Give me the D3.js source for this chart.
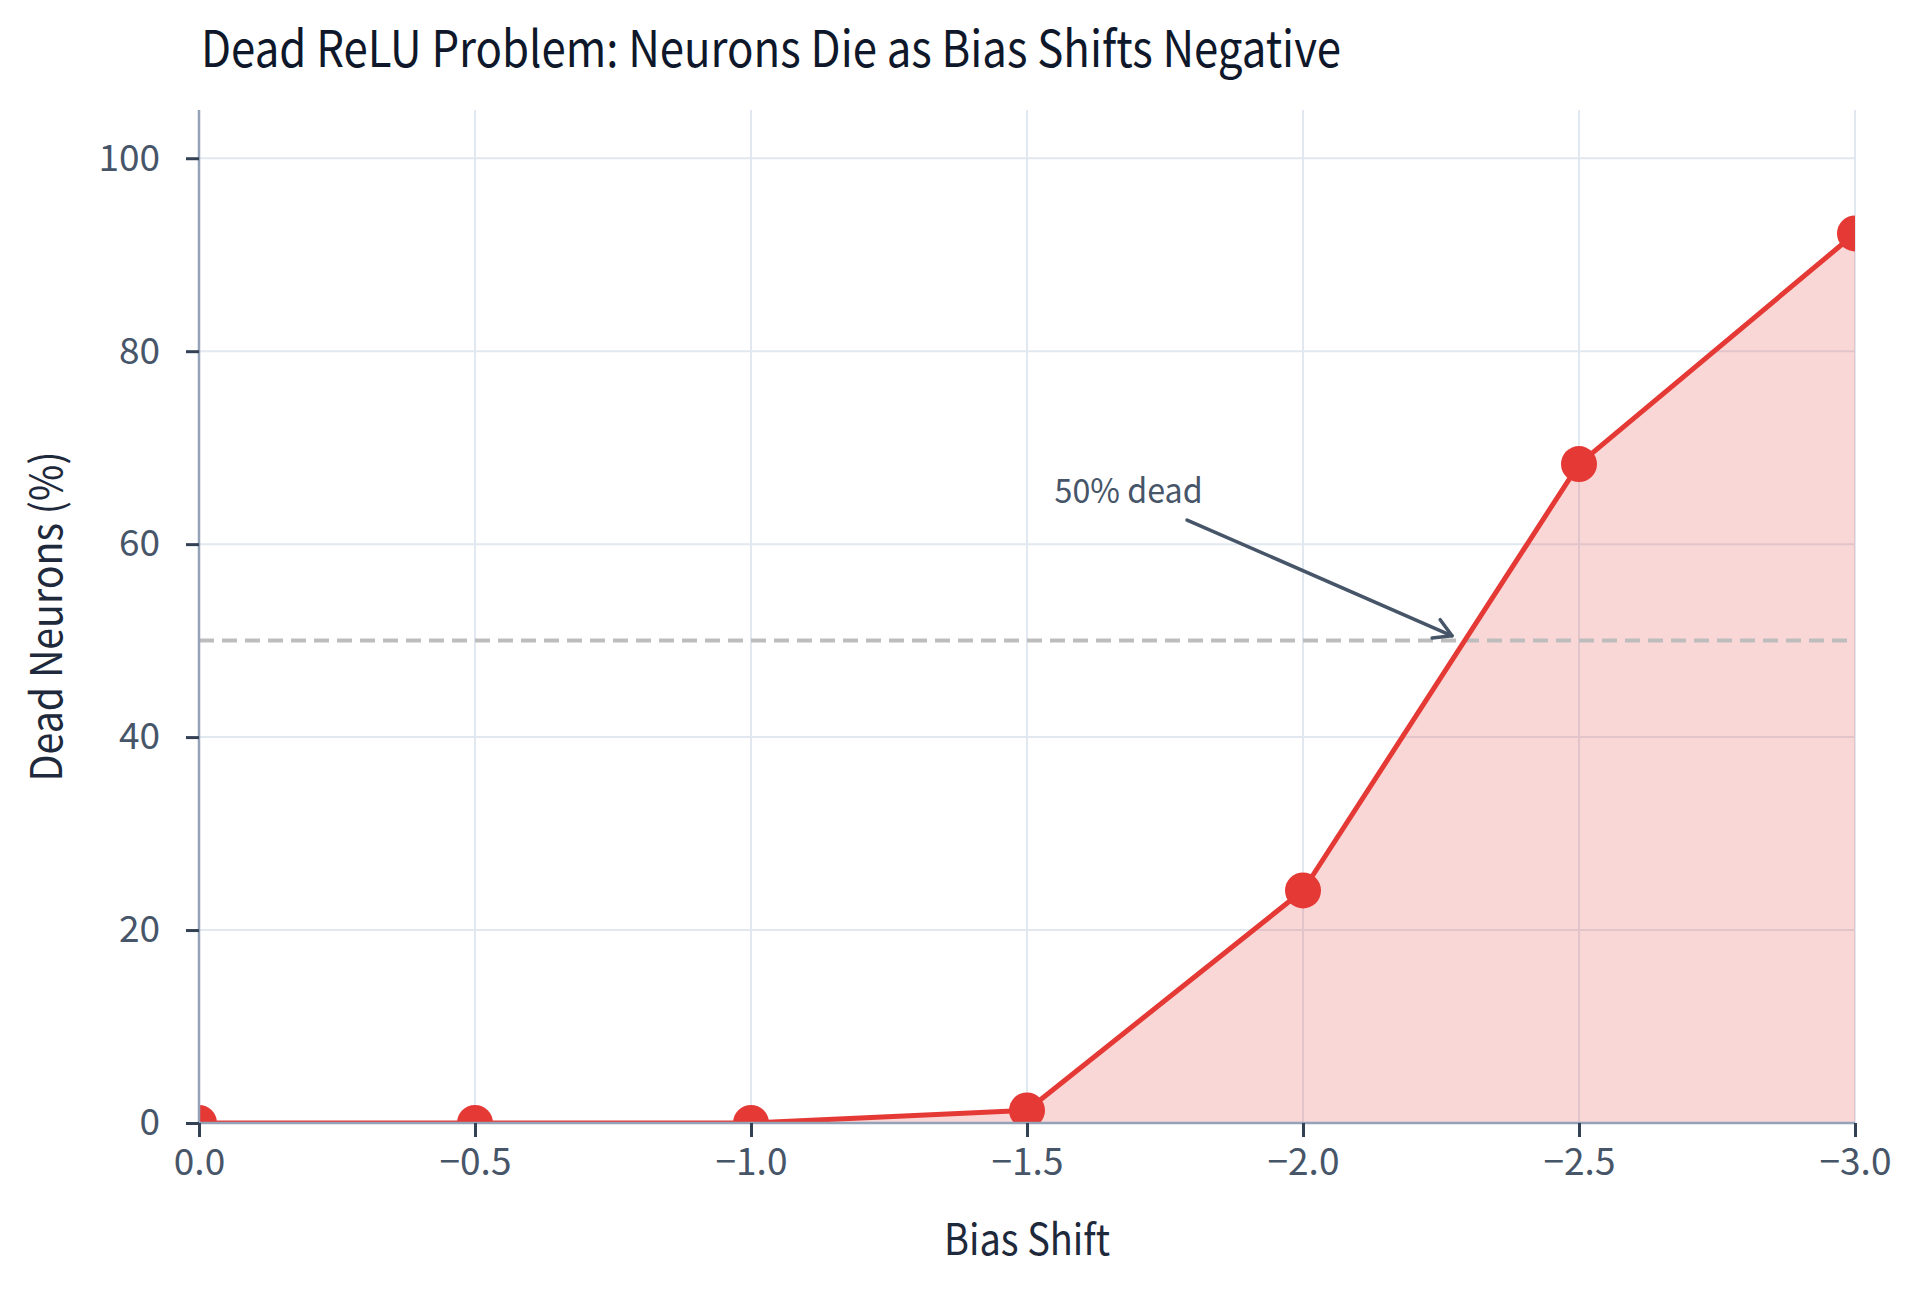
<!DOCTYPE html>
<html lang="en">
<head>
  <meta charset="UTF-8">
  <title>Dead ReLU Problem</title>
  <script src="https://d3js.org/d3.v7.min.js"></script>
  <style>
    html, body { margin: 0; padding: 0; background: #fff; }
    body { overflow: hidden; }
    svg text { font-family: "Noto Sans CJK KR", "Noto Sans", sans-serif; }
  </style>
</head>
<body>
  <svg id="chart"></svg>
  <script>
    // data
    const biasShift = [0, -0.5, -1.0, -1.5, -2.0, -2.5, -3.0];
    const deadPct = [0, 0, 0, 1.3, 24.1, 68.3, 92.2];
    const xTicks = [0, -0.5, -1.0, -1.5, -2.0, -2.5, -3.0];
    const yTicks = [0, 20, 40, 60, 80, 100];
    const threshold = 50;
    const noteText = '50% dead';
    const noteAt = [-1.55, 64.3];      // text anchor (data units)
    const arrowFrom = [-1.79, 62.5];
    const arrowTo = [-2.27, 50.5];

    const width = 1920, height = 1292;
    const margin = { top: 110, right: 65, bottom: 169, left: 199 };

    const red = '#e53935';
    const slate = '#475569';

    const svg = d3.select('#chart')
      .attr('width', width)
      .attr('height', height);

    const x = d3.scaleLinear().domain([0, -3]).range([margin.left, width - margin.right]);
    const y = d3.scaleLinear().domain([0, 105]).range([height - margin.bottom, margin.top]);

    const points = biasShift.map((b, i) => ({ b, v: deadPct[i] }));
    const fmt = d => d3.format('.1f')(d).replace('-', '\u2212');

    svg.append('defs').append('clipPath').attr('id', 'plotClip')
      .append('rect')
      .attr('x', margin.left).attr('y', margin.top)
      .attr('width', width - margin.left - margin.right)
      .attr('height', height - margin.top - margin.bottom);

    // grid
    const grid = svg.append('g').attr('stroke', '#e2e8f0').attr('stroke-width', 2);
    grid.selectAll('line.gx').data(xTicks).enter().append('line')
      .attr('x1', d => x(d)).attr('x2', d => x(d))
      .attr('y1', y.range()[0]).attr('y2', y.range()[1]);
    grid.selectAll('line.gy').data(yTicks).enter().append('line')
      .attr('x1', x.range()[0]).attr('x2', x.range()[1])
      .attr('y1', d => y(d)).attr('y2', d => y(d));

    const plot = svg.append('g').attr('clip-path', 'url(#plotClip)');

    // area under the curve
    plot.append('path')
      .datum(points)
      .attr('fill', 'rgba(229, 57, 53, 0.2)')
      .attr('d', d3.area().x(d => x(d.b)).y0(y(0)).y1(d => y(d.v)));

    // 50% line
    plot.append('line')
      .attr('x1', x.range()[0]).attr('x2', x.range()[1])
      .attr('y1', y(threshold)).attr('y2', y(threshold))
      .attr('stroke', '#bdbdbd')
      .attr('stroke-width', 4)
      .attr('stroke-dasharray', '15 8');

    plot.append('path')
      .datum(points)
      .attr('fill', 'none')
      .attr('stroke', red)
      .attr('stroke-width', 5)
      .attr('stroke-linejoin', 'round')
      .attr('d', d3.line().x(d => x(d.b)).y(d => y(d.v)));

    plot.selectAll('circle').data(points).enter().append('circle')
      .attr('cx', d => x(d.b))
      .attr('cy', d => y(d.v))
      .attr('r', 18)
      .attr('fill', red);

    // axes
    const xAxis = svg.append('g')
      .attr('transform', `translate(0,${y(0)})`)
      .call(d3.axisBottom(x).tickValues(xTicks).tickFormat(fmt).tickSize(14).tickPadding(12));
    const yAxis = svg.append('g')
      .attr('transform', `translate(${x(0)},0)`)
      .call(d3.axisLeft(y).tickValues(yTicks).tickSize(13).tickPadding(26));

    [xAxis, yAxis].forEach(ax => {
      ax.select('.domain').attr('stroke', '#94a3b8').attr('stroke-width', 2.5);
      ax.selectAll('.tick line').attr('stroke', '#334155').attr('stroke-width', 3);
      ax.selectAll('.tick text')
        .attr('fill', slate)
        .style('font-size', '37px');
    });
    xAxis.select('.domain').attr('d', `M${x.range()[0]},0H${x.range()[1]}`);
    yAxis.select('.domain').attr('d', `M0,${y.range()[0]}V${y.range()[1]}`);

    // annotation
    svg.append('text')
      .attr('x', x(noteAt[0]))
      .attr('y', y(noteAt[1]))
      .attr('fill', slate)
      .attr('textLength', 148)
      .attr('lengthAdjust', 'spacingAndGlyphs')
      .style('font-size', '34px')
      .text(noteText);

    const ax0 = x(arrowFrom[0]), ay0 = y(arrowFrom[1]);
    const ax1 = x(arrowTo[0]), ay1 = y(arrowTo[1]);
    const ang = Math.atan2(ay1 - ay0, ax1 - ax0);
    const headLen = 20, headAng = Math.PI / 6;
    const wing = s => [ax1 - headLen * Math.cos(ang + s * headAng), ay1 - headLen * Math.sin(ang + s * headAng)];
    const note = svg.append('g')
      .attr('stroke', slate)
      .attr('stroke-width', 3.5)
      .attr('fill', 'none')
      .attr('stroke-linecap', 'round')
      .attr('stroke-linejoin', 'round');
    note.append('line').attr('x1', ax0).attr('y1', ay0).attr('x2', ax1).attr('y2', ay1);
    note.append('path').attr('d', `M${wing(1)}L${ax1},${ay1}L${wing(-1)}`);

    // titles (reference face is narrower than the installed one, so squeeze to its width)
    svg.append('text')
      .attr('x', margin.left + 2)
      .attr('y', 67)
      .attr('fill', '#0f172a')
      .attr('textLength', 1140)
      .attr('lengthAdjust', 'spacingAndGlyphs')
      .style('font-size', '50px')
      .text('Dead ReLU Problem: Neurons Die as Bias Shifts Negative');

    svg.append('text')
      .attr('x', (x.range()[0] + x.range()[1]) / 2)
      .attr('y', 1255)
      .attr('text-anchor', 'middle')
      .attr('fill', '#1e293b')
      .attr('textLength', 166)
      .attr('lengthAdjust', 'spacingAndGlyphs')
      .style('font-size', '43px')
      .text('Bias Shift');

    svg.append('text')
      .attr('transform', `translate(62,${(y.range()[0] + y.range()[1]) / 2}) rotate(-90)`)
      .attr('text-anchor', 'middle')
      .attr('fill', '#1e293b')
      .attr('textLength', 330)
      .attr('lengthAdjust', 'spacingAndGlyphs')
      .style('font-size', '43px')
      .text('Dead Neurons (%)');
  </script>
</body>
</html>
